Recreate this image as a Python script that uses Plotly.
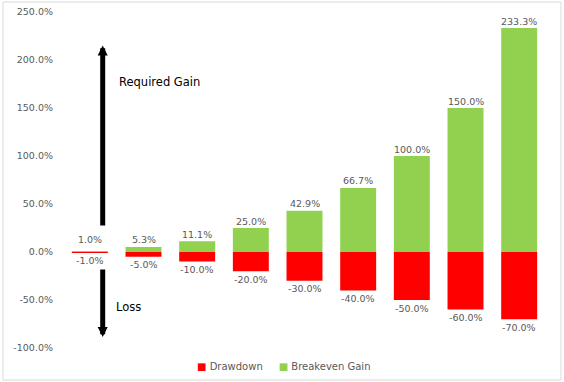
import plotly.graph_objects as go

categories = ["1%", "5%", "10%", "20%", "30%", "40%", "50%", "60%", "70%"]
drawdown = [-1.0, -5.0, -10.0, -20.0, -30.0, -40.0, -50.0, -60.0, -70.0]
breakeven_gain = [1.0, 5.3, 11.1, 25.0, 42.9, 66.7, 100.0, 150.0, 233.3]
y_ticks = [-100, -50, 0, 50, 100, 150, 200, 250]
y_tick_labels = [f"{v:.1f}%" for v in y_ticks]

RED = "#FF0000"
GREEN = "#92D050"
GRAY = "#595959"
FONT = "DejaVu Sans"

x = list(range(len(categories)))

fig = go.Figure()
fig.add_trace(go.Bar(x=x, y=drawdown, name="Drawdown", showlegend=False,
                     marker=dict(color=RED, line=dict(width=0))))
fig.add_trace(go.Bar(x=x, y=breakeven_gain, name="Breakeven Gain", showlegend=False,
                     marker=dict(color=GREEN, line=dict(width=0))))

# data labels
for i, v in enumerate(breakeven_gain):
    fig.add_annotation(x=x[i], y=v, xref="x", yref="y", text=f"{v:.1f}%", showarrow=False,
                       yanchor="middle", yshift=12 if i == 0 else 7,
                       font=dict(family=FONT, size=9.5, color=GRAY))
for i, v in enumerate(drawdown):
    fig.add_annotation(x=x[i], y=v, xref="x", yref="y", text=f"{v:.1f}%", showarrow=False,
                       yanchor="middle", yshift=-8,
                       font=dict(family=FONT, size=9.5, color=GRAY))

# arrows
arrow_x = 0.24
fig.add_annotation(x=arrow_x, y=215, ax=arrow_x, ay=26, xref="x", yref="y", axref="x", ayref="y",
                   text="", showarrow=True, arrowhead=2, arrowsize=0.4, arrowwidth=5, arrowcolor="#000000")
fig.add_annotation(x=arrow_x, y=-88.5, ax=arrow_x, ay=-16.7, xref="x", yref="y", axref="x", ayref="y",
                   text="", showarrow=True, arrowhead=2, arrowsize=0.4, arrowwidth=5, arrowcolor="#000000")

fig.add_annotation(x=arrow_x + 0.26, y=177, xref="x", yref="y", text="Required Gain", showarrow=False,
                   xanchor="left", font=dict(family=FONT, size=11.5, color="#000000"))
fig.add_annotation(x=arrow_x + 0.21, y=-57, xref="x", yref="y", text="Loss", showarrow=False,
                   xanchor="left", font=dict(family=FONT, size=11.5, color="#000000"))

# legend (drawn as text)
legend_text = (f"<span style='color:{RED}'>■</span> Drawdown"
               f"     <span style='color:{GREEN}'>■</span> Breakeven Gain")
fig.add_annotation(x=0.4575, y=-0.0536, xref="paper", yref="paper", text=legend_text, showarrow=False,
                   xanchor="center", yanchor="middle", font=dict(family=FONT, size=10, color=GRAY))

# chart border
fig.add_shape(type="rect", xref="paper", yref="paper", x0=-0.1242, x1=1.031, y0=-0.0952, y1=1.0298,
              line=dict(color="#D9D9D9", width=1), fillcolor="rgba(0,0,0,0)", layer="below")

fig.update_layout(
    width=564, height=382,
    margin=dict(l=63, r=18, t=12, b=34, autoexpand=False),
    barmode="relative", bargap=0.33,
    plot_bgcolor="white", paper_bgcolor="white",
    font=dict(family=FONT, size=9.5, color=GRAY),
    showlegend=False,
    xaxis=dict(range=[-0.5, len(categories) - 0.5], showticklabels=False, showgrid=False,
               zeroline=False, showline=False, ticks="", automargin=False),
    yaxis=dict(range=[-100, 250], tickvals=y_ticks, ticktext=y_tick_labels,
               showgrid=False, zeroline=False, showline=False, ticks="", automargin=False,
               ticklabelstandoff=9, tickfont=dict(family=FONT, size=9.5, color=GRAY)),
)

fig.write_html("out.html", config={"displayModeBar": False},
               post_script="document.body.style.margin='0px';")
